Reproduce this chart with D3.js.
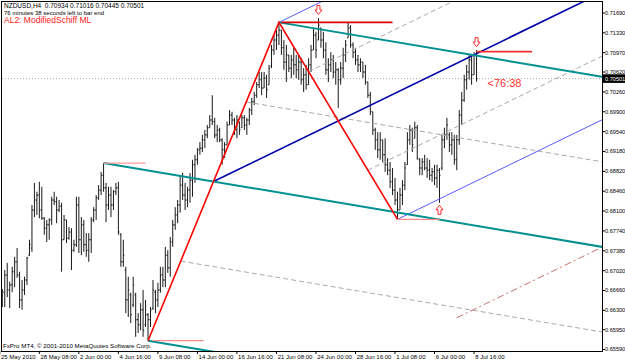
<!DOCTYPE html>
<html><head><meta charset="utf-8">
<script src="https://cdn.jsdelivr.net/npm/d3@7"></script>
<style>
html,body{margin:0;padding:0;background:#fff;overflow:hidden}
svg{display:block}
text{font-family:"Liberation Sans",Arial,sans-serif}
</style></head><body>
<svg id="c" width="625" height="361"></svg>
<script>
// ---------- DATA (NZDUSD H4, bar index 0 = 25 May 2010 16:00) ----------
const opens = [
.6649,.6663,.6694,.6667,.6676,.6700,.6718,.6694,.6649,.6667,
.6685,.6730,.6743,.6812,.6830,.6839,.6812,.6797,.6779,.6785,
.6794,.6830,.6827,.6812,.6819,.6758,.6794,.6761,.6772,.6739,
.6749,.6821,.6758,.6785,.6749,.6739,.6758,.6794,.6812,.6834,
.6848,.6875,.6852,.6821,.6839,.6821,.6845,.6852,.6767,.6718,
.6703,.6649,.6658,.6640,.6658,.6613,.6604,.6631,.6604,.6622,
.6613,.6634,.6663,.6649,.6667,.6694,.6685,.6730,.6707,.6754,
.6785,.6803,.6821,.6857,.6839,.6830,.6848,.6866,.6894,.6903,
.6921,.6924,.6939,.6948,.6961,.6975,.6972,.6948,.6957,.6939,
.6921,.6930,.6966,.6984,.6975,.6957,.6972,.6961,.6979,.6966,
.6975,.6993,.7008,.7020,.7039,.7048,.7033,.7051,.7039,.7073,
.7102,.7120,.7129,.7138,.7106,.7080,.7093,.7069,.7084,.7075,
.7066,.7080,.7048,.7057,.7039,.7075,.7102,.7129,.7120,.7142,
.7120,.7102,.7066,.7075,.7084,.7062,.7066,.7048,.7069,.7093,
.7124,.7142,.7111,.7098,.7084,.7075,.7080,.7062,.7044,.7020,
.6990,.6957,.6939,.6921,.6939,.6912,.6894,.6884,.6863,.6848,
.6830,.6812,.6839,.6857,.6894,.6939,.6957,.6942,.6961,.6903,
.6888,.6899,.6888,.6884,.6875,.6881,.6870,.6884,.6888,.6939,
.6948,.6948,.6930,.6939,.6903,.6939,.6984,.7011,.7048,.7062,
.7084,.7057,.70934];
const highs = [
.6669,.6703,.6716,.6682,.6709,.6727,.6743,.6700,.6685,.6691,
.6727,.6758,.6821,.6861,.6845,.6863,.6854,.6799,.6794,.6797,
.6836,.6845,.6836,.6830,.6825,.6803,.6794,.6781,.6779,.6758,
.6836,.6836,.6799,.6794,.6770,.6770,.6799,.6817,.6839,.6857,
.6881,.6897,.6861,.6854,.6854,.6848,.6861,.6863,.6770,.6758,
.6709,.6691,.6662,.6691,.6662,.6625,.6643,.6667,.6649,.6625,
.6636,.6685,.6667,.6680,.6709,.6709,.6745,.6739,.6763,.6794,
.6817,.6830,.6872,.6879,.6861,.6854,.6879,.6903,.6912,.6924,
.6935,.6948,.6957,.6966,.6984,.7020,.6979,.6966,.6961,.6942,
.6935,.6972,.6993,.6990,.6979,.6984,.6972,.6984,.6984,.6979,
.6997,.7015,.7026,.7044,.7062,.7062,.7062,.7057,.7075,.7111,
.7129,.7138,.7152,.7138,.7120,.7111,.7093,.7093,.7106,.7093,
.7093,.7087,.7069,.7075,.7087,.7111,.7142,.7135,.7160,.7142,
.7135,.7116,.7087,.7098,.7093,.7080,.7069,.7080,.7106,.7120,
.7151,.7147,.7116,.7106,.7093,.7087,.7080,.7075,.7044,.7026,
.6990,.6961,.6953,.6953,.6939,.6942,.6906,.6899,.6888,.6870,
.6845,.6852,.6866,.6899,.6953,.6966,.6961,.6972,.6966,.6906,
.6906,.6912,.6906,.6903,.6888,.6894,.6894,.6888,.6948,.6961,
.6979,.6953,.6953,.6948,.6948,.6993,.7026,.7057,.7075,.7093,
.7093,.7098,.71016];
const lows = [
.6636,.6636,.6654,.6634,.6663,.6672,.6689,.6634,.6631,.6658,
.6676,.6729,.6736,.6799,.6803,.6797,.6794,.6767,.6754,.6758,
.6785,.6821,.6788,.6808,.6700,.6758,.6752,.6758,.6703,.6736,
.6745,.6734,.6730,.6736,.6727,.6718,.6734,.6790,.6794,.6830,
.6839,.6845,.6790,.6812,.6799,.6812,.6839,.6767,.6709,.6709,
.6625,.6618,.6607,.6636,.6582,.6589,.6594,.6582,.6600,.6575,
.6600,.6631,.6625,.6636,.6662,.6672,.6672,.6698,.6691,.6745,
.6776,.6788,.6807,.6830,.6812,.6817,.6825,.6836,.6861,.6894,
.6912,.6917,.6924,.6942,.6961,.6966,.6942,.6935,.6935,.6894,
.6906,.6930,.6966,.6966,.6948,.6942,.6948,.6961,.6957,.6948,
.6966,.6984,.7002,.7015,.7033,.7020,.7033,.7015,.7039,.7069,
.7093,.7102,.7111,.7093,.7066,.7044,.7062,.7051,.7057,.7051,
.7048,.7039,.7026,.7030,.7039,.7062,.7102,.7087,.7120,.7106,
.7087,.7057,.7044,.7062,.7051,.7039,.6997,.7039,.7051,.7080,
.7124,.7106,.7087,.7075,.7062,.7062,.7051,.7039,.7015,.6984,
.6948,.6921,.6906,.6903,.6899,.6881,.6875,.6852,.6839,.6821,
.6795,.6812,.6821,.6848,.6894,.6930,.6917,.6942,.6903,.6875,
.6875,.6884,.6870,.6866,.6863,.6857,.6852,.6825,.6884,.6924,
.6939,.6917,.6912,.6894,.6884,.6930,.6966,.7008,.7030,.7048,
.7039,.7057,.70445];
const closes = [
.6663,.6694,.6667,.6676,.6700,.6718,.6694,.6649,.6667,.6685,
.6725,.6749,.6812,.6830,.6839,.6812,.6797,.6779,.6785,.6794,
.6830,.6827,.6812,.6819,.6758,.6794,.6761,.6772,.6739,.6749,
.6821,.6758,.6785,.6749,.6739,.6758,.6794,.6812,.6834,.6848,
.6875,.6852,.6821,.6839,.6821,.6845,.6852,.6772,.6718,.6730,
.6649,.6667,.6622,.6676,.6613,.6604,.6631,.6594,.6622,.6613,
.6631,.6667,.6649,.6667,.6694,.6685,.6730,.6707,.6754,.6785,
.6803,.6821,.6857,.6839,.6830,.6848,.6866,.6894,.6903,.6921,
.6924,.6939,.6948,.6961,.6975,.6972,.6948,.6957,.6939,.6921,
.6930,.6966,.6984,.6975,.6957,.6975,.6957,.6979,.6966,.6975,
.6993,.7008,.7020,.7039,.7048,.7033,.7051,.7030,.7069,.7102,
.7120,.7129,.7138,.7106,.7080,.7093,.7069,.7084,.7075,.7066,
.7080,.7048,.7057,.7039,.7075,.7102,.7129,.7102,.7147,.7120,
.7102,.7066,.7075,.7084,.7062,.7066,.7048,.7069,.7093,.7111,
.7142,.7111,.7098,.7084,.7075,.7080,.7062,.7044,.7020,.6990,
.6957,.6939,.6921,.6939,.6912,.6894,.6884,.6863,.6848,.6830,
.6812,.6839,.6857,.6888,.6939,.6957,.6930,.6961,.6906,.6888,
.6899,.6888,.6884,.6875,.6881,.6870,.6884,.6875,.6939,.6948,
.6966,.6930,.6939,.6903,.6939,.6984,.7011,.7048,.7062,.7084,
.7057,.7093,.70501];

const timeLabels = ["25 May 2010","28 May 08:00","2 Jun 00:00","4 Jun 16:00","9 Jun 08:00","14 Jun 00:00",
  "16 Jun 16:00","21 Jun 08:00","24 Jun 00:00","28 Jun 16:00","1 Jul 08:00","6 Jul 00:00","8 Jul 16:00"];
const timeLabelBars = [0,16,32,48,64,80,96,112,128,144,160,176,192];
const priceTicks = [0.71690,0.71330,0.70970,0.70620,0.70260,0.69900,0.69540,0.69180,0.68820,
  0.68460,0.68100,0.67740,0.67380,0.67020,0.66660,0.66300,0.65950,0.65590];

// pivots: teal handle (28 May high), A (low), B (high), C (low)
const pivotBars = [41, 59, 112, 160];
const pivotSide = ["high","low","high","low"];

// short horizontal marks
const markStart = [41, 61, 113, 160, 192];
const markEnd   = [58, 81.5, 158, 177, 214.5];
const markPrice = [0.6897, 0.6575, 0.7152, 0.6795, 0.7099];

// arrow markers
const arrowBars = [128, 192, 177];
const arrowDir  = ["down","down","up"];

const symbol = "NZDUSD,H4";
const timerText = "76 minutes 38 seconds left to bar end";
const indicatorText = "AL2: ModifiedSchiff ML";
const countdown = "<76:38";

// ---------- DRAW ----------
const L = 2, R = 602, T = 2, B = 351;
const svg = d3.select("#c");
svg.append("rect").attr("width",625).attr("height",361).attr("fill","#fff");

const x = d3.scaleLinear().domain([0, 192]).range([2.3, 476.54]);
const y = d3.scaleLinear().domain([0.655635, 0.718894]).range([B, T]);
const iRight = x.invert(R + 4);

svg.append("defs").append("clipPath").attr("id","plot")
  .append("rect").attr("x",L).attr("y",T).attr("width",R-L).attr("height",B-T);

// frame
svg.append("rect").attr("x",1.5).attr("y",1.5).attr("width",R-1).attr("height",B-1)
  .attr("fill","none").attr("stroke","#000").attr("stroke-width",1);

const last = closes.length - 1;
// bid line
svg.append("line").attr("x1",L).attr("x2",R).attr("y1",y(closes[last])).attr("y2",y(closes[last]))
  .attr("stroke","#a8a8a8").attr("stroke-dasharray","1,2").attr("stroke-width",1);

// OHLC bars
const gBars = svg.append("g").attr("clip-path","url(#plot)")
  .attr("stroke","#1a1a1a").attr("stroke-width",1).attr("fill","none");
gBars.selectAll("path").data(d3.range(highs.length)).join("path")
  .attr("d", i => {
    const xi = x(i);
    return `M${xi},${y(highs[i])}V${y(lows[i])}M${xi-1.1},${y(opens[i])}H${xi}M${xi},${y(closes[i])}H${xi+1.1}`;
  });

// pivots from data
const piv = pivotBars.map((b,k) => ({i:b, p: pivotSide[k]==="high" ? highs[b] : lows[b]}));
const [P0, A, Bp, C] = piv;
const lerp = (a,b,t) => ({i: a.i + (b.i-a.i)*t, p: a.p + (b.p-a.p)*t});
const line = d3.line().x(d => x(d.i)).y(d => y(d.p));
const ray = (start, slope) => [start, {i: iRight, p: start.p + slope*(iRight - start.i)}];

const gL = svg.append("g").attr("clip-path","url(#plot)").attr("fill","none");
function draw(pts, color, w, dash) {
  const p = gL.append("path").attr("d", line(pts)).attr("stroke", color).attr("stroke-width", w);
  if (dash) p.attr("stroke-dasharray", dash);
}

// Teal Andrews fork: handle P0, tines through A and B
const M1 = lerp(A, Bp, 0.5);
const sT = (M1.p - P0.p) / (M1.i - P0.i);
draw(ray(lerp(A,Bp,0.25), sT), "#a9a9a9", 1, "5,3");
draw(ray(lerp(A,Bp,0.75), sT), "#a9a9a9", 1, "5,3");

// Modified Schiff fork (anchor M1, through mid B-C)
const M2 = lerp(Bp, C, 0.5);
const sN = (M2.p - M1.p) / (M2.i - M1.i);
draw(ray(lerp(Bp,C,0.25), sN), "#a9a9a9", 1, "5,3");
draw(ray(lerp(Bp,C,0.75), sN), "#a9a9a9", 1, "5,3");
draw(ray(lerp(Bp,C,1.5), sN), "#c87070", 1, "7,3,2,3");
draw(ray(Bp, sN), "#5a5aff", 1);
draw(ray(C, sN), "#5a5aff", 1);
draw(ray(M1, sN), "#0000a8", 1.6);

draw(ray(P0, sT), "#009090", 2);
draw(ray(A, sT), "#009090", 2);
draw(ray(Bp, sT), "#009090", 2);

// zigzag A-B-C
draw([A, Bp, C], "#ff0000", 1.6);

// horizontal marks
const markColor = ["#ff9a9a","#ff8c8c","#d80000","#ff8c8c","#ff3030"];
const markWidth = [1.2,1.2,1.8,1.2,1.8];
markStart.forEach((s,k) => draw([{i:s,p:markPrice[k]},{i:markEnd[k],p:markPrice[k]}], markColor[k], markWidth[k]));

// arrows
arrowBars.forEach((b,k) => {
  const cx = x(b);
  let d;
  if (arrowDir[k] === "down") {
    const t = y(highs[b]) - 3.5;
    d = `M${cx-1.5},${t-9}H${cx+1.5}V${t-4.5}H${cx+3.5}L${cx},${t}L${cx-3.5},${t-4.5}H${cx-1.5}Z`;
  } else {
    const t = y(lows[b]) + 2.5;
    d = `M${cx-1.5},${t+9}H${cx+1.5}V${t+4.5}H${cx+3.5}L${cx},${t}L${cx-3.5},${t+4.5}H${cx-1.5}Z`;
  }
  svg.append("path").attr("d", d).attr("fill","#fff").attr("stroke","#ff2a2a").attr("stroke-width",1);
});

// right axis
const gy = svg.append("g");
priceTicks.forEach(v => {
  const yy = y(v);
  gy.append("line").attr("x1",R).attr("x2",R+3).attr("y1",yy).attr("y2",yy).attr("stroke","#000");
  gy.append("text").attr("x",605).attr("y",yy).attr("dy","0.35em")
    .attr("font-size",5.6).attr("fill","#000").text(v.toFixed(5));
});
// current price box
const yc = y(closes[last]);
svg.append("rect").attr("x",603).attr("y",yc-4.3).attr("width",22).attr("height",8.6).attr("fill","#000");
svg.append("text").attr("x",605).attr("y",yc).attr("dy","0.35em").attr("font-size",5.6)
  .attr("fill","#fff").text(closes[last].toFixed(5));

// bottom axis
const gx = svg.append("g");
timeLabelBars.forEach((b,k) => {
  const xx = x(b);
  gx.append("line").attr("x1",xx-2.5).attr("x2",xx-2.5).attr("y1",B).attr("y2",B+3).attr("stroke","#000");
  gx.append("text").attr("x",xx-1.3).attr("y",358.5).attr("font-size",6).attr("fill","#000").text(timeLabels[k]);
});

// texts
svg.append("text").attr("x",4).attr("y",8).attr("font-size",6.5).attr("fill","#000")
  .attr("xml:space","preserve")
  .text(`${symbol}  ${opens[last].toFixed(5)} ${highs[last].toFixed(5)} ${lows[last].toFixed(5)} ${closes[last].toFixed(5)}`);
svg.append("text").attr("x",4).attr("y",14.5).attr("font-size",6).attr("fill","#000").text(timerText);
svg.append("text").attr("x",4).attr("y",22.5).attr("font-size",8.5).attr("fill","#ff2020").text(indicatorText);
svg.append("text").attr("x",3).attr("y",347.5).attr("font-size",6.2).attr("fill","#000")
  .text("FxPro MT4, © 2001-2010 MetaQuotes Software Corp.");
svg.append("text").attr("x",487.5).attr("y",86.5).attr("font-size",11).attr("fill","#ff3030").text(countdown);
</script>
</body></html>
